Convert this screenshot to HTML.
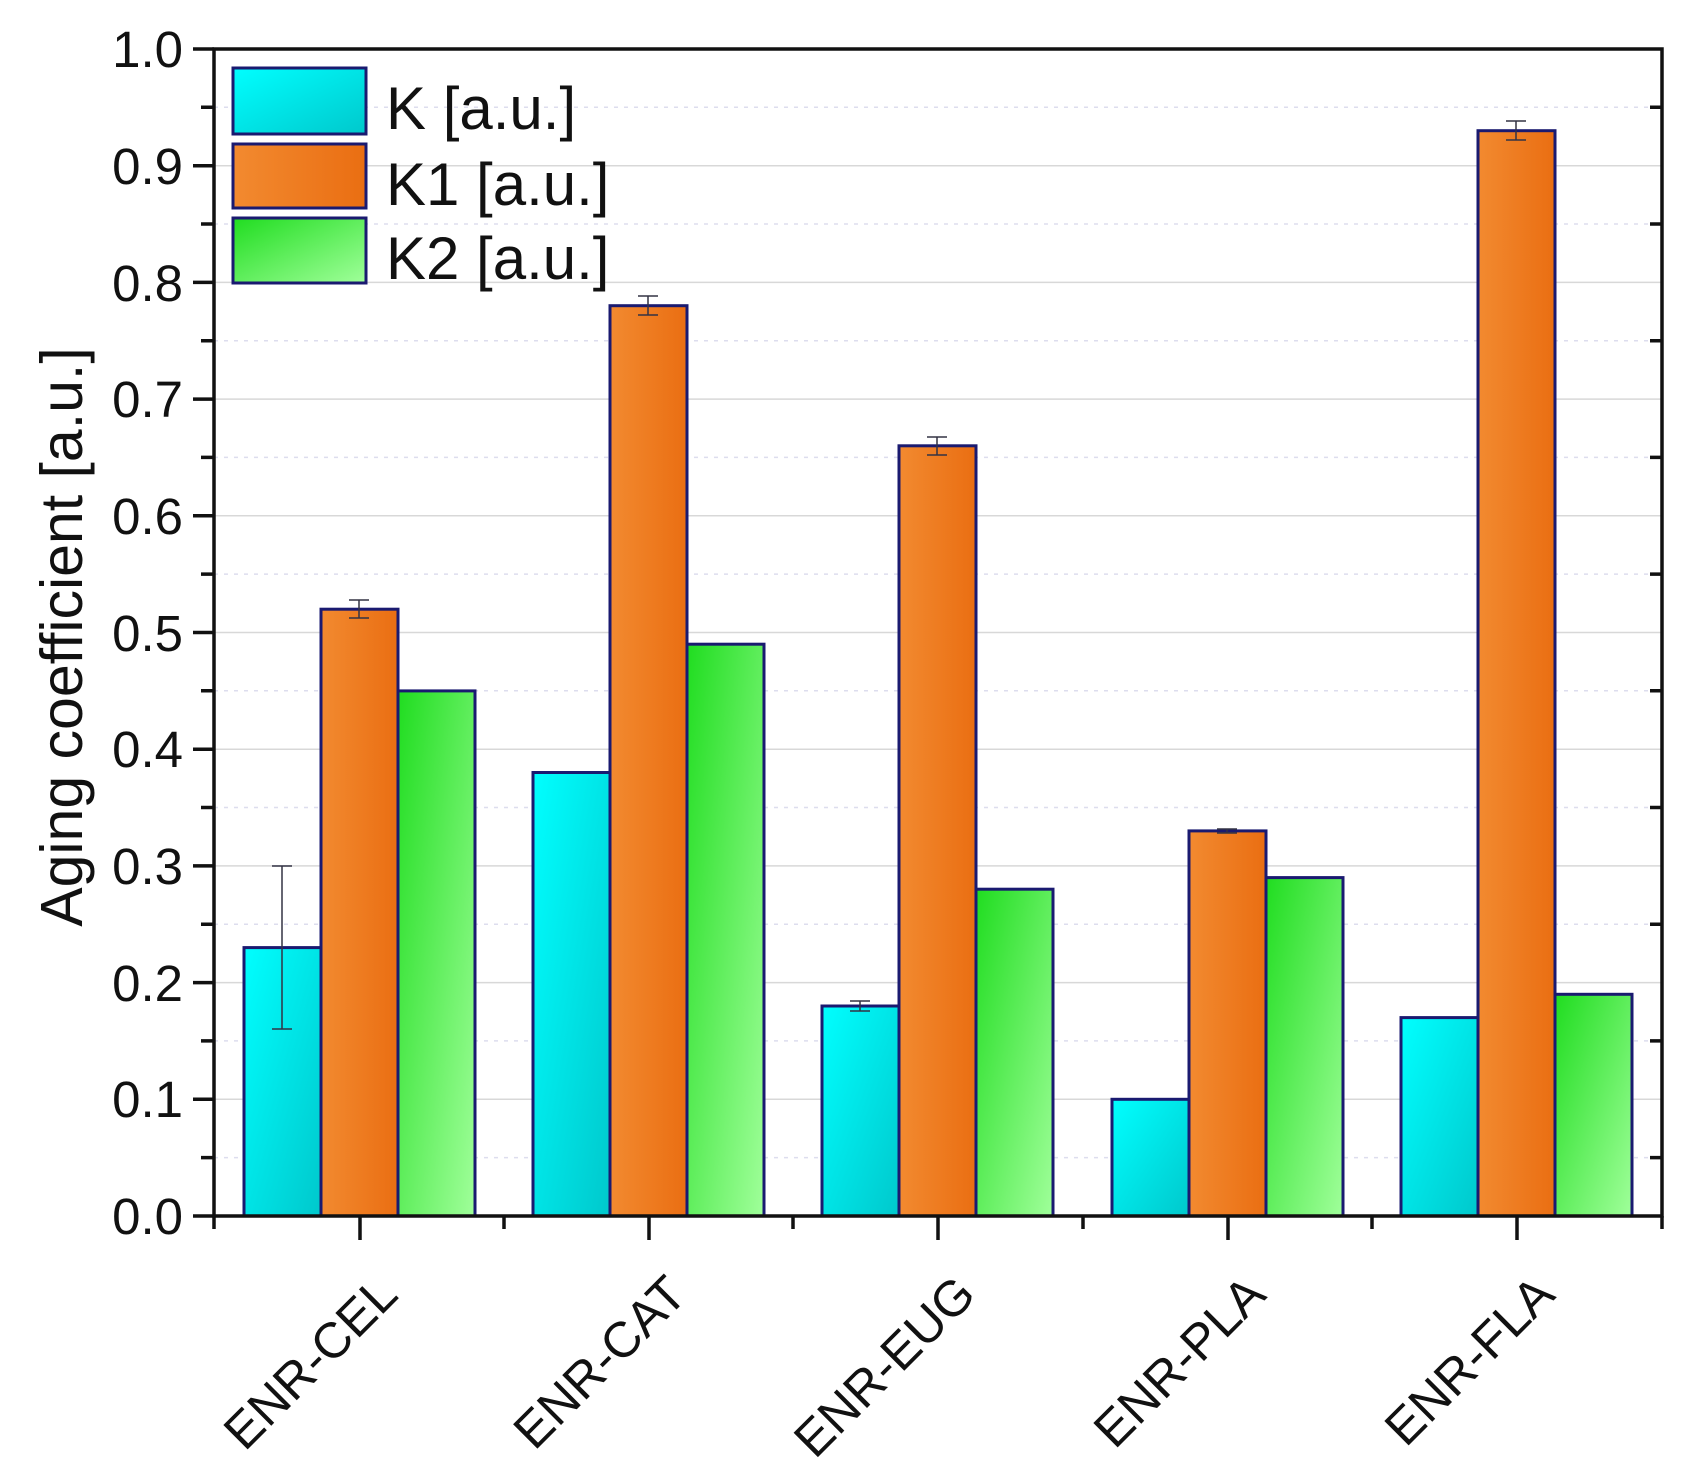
<!DOCTYPE html>
<html><head><meta charset="utf-8"><style>html,body{margin:0;padding:0;background:#fff}svg{display:block}</style></head>
<body>
<svg width="1688" height="1469" viewBox="0 0 1688 1469" xmlns="http://www.w3.org/2000/svg" font-family="Liberation Sans, Arial, sans-serif">
<defs>
<linearGradient id="gc" x1="0" y1="0" x2="1" y2="1"><stop offset="0" stop-color="#00ffff"/><stop offset="1" stop-color="#00c8cc"/></linearGradient>
<linearGradient id="go" x1="0" y1="0" x2="1" y2="0"><stop offset="0" stop-color="#f28a30"/><stop offset="1" stop-color="#ea6e12"/></linearGradient>
<linearGradient id="gg" x1="0" y1="0" x2="1" y2="1"><stop offset="0" stop-color="#20dd20"/><stop offset="1" stop-color="#a0ff9a"/></linearGradient>
</defs>
<g stroke="#d8d8d8" stroke-width="1.5">
<line x1="214" x2="1662" y1="1099.3" y2="1099.3"/><line x1="214" x2="1662" y1="982.6" y2="982.6"/><line x1="214" x2="1662" y1="865.9" y2="865.9"/><line x1="214" x2="1662" y1="749.2" y2="749.2"/><line x1="214" x2="1662" y1="632.5" y2="632.5"/><line x1="214" x2="1662" y1="515.8" y2="515.8"/><line x1="214" x2="1662" y1="399.1" y2="399.1"/><line x1="214" x2="1662" y1="282.4" y2="282.4"/><line x1="214" x2="1662" y1="165.7" y2="165.7"/>
</g>
<g stroke="#dde" stroke-width="1.5" stroke-dasharray="4 6">
<line x1="214" x2="1662" y1="1157.6" y2="1157.6"/><line x1="214" x2="1662" y1="1040.9" y2="1040.9"/><line x1="214" x2="1662" y1="924.2" y2="924.2"/><line x1="214" x2="1662" y1="807.5" y2="807.5"/><line x1="214" x2="1662" y1="690.8" y2="690.8"/><line x1="214" x2="1662" y1="574.1" y2="574.1"/><line x1="214" x2="1662" y1="457.4" y2="457.4"/><line x1="214" x2="1662" y1="340.7" y2="340.7"/><line x1="214" x2="1662" y1="224" y2="224"/><line x1="214" x2="1662" y1="107.3" y2="107.3"/>
</g>
<g stroke="#1a1a70" stroke-width="3">
<rect x="244" y="947.6" width="77" height="268.4" fill="url(#gc)"/><rect x="321" y="609.2" width="77" height="606.8" fill="url(#go)"/><rect x="398" y="690.9" width="77" height="525.1" fill="url(#gg)"/>
<rect x="533" y="772.5" width="77" height="443.5" fill="url(#gc)"/><rect x="610" y="305.7" width="77" height="910.3" fill="url(#go)"/><rect x="687" y="644.2" width="77" height="571.8" fill="url(#gg)"/>
<rect x="822" y="1006" width="77" height="210" fill="url(#gc)"/><rect x="899" y="445.8" width="77" height="770.2" fill="url(#go)"/><rect x="976" y="889.2" width="77" height="326.8" fill="url(#gg)"/>
<rect x="1112" y="1099.3" width="77" height="116.7" fill="url(#gc)"/><rect x="1189" y="830.9" width="77" height="385.1" fill="url(#go)"/><rect x="1266" y="877.6" width="77" height="338.4" fill="url(#gg)"/>
<rect x="1401" y="1017.6" width="77" height="198.4" fill="url(#gc)"/><rect x="1478" y="130.7" width="77" height="1085.3" fill="url(#go)"/><rect x="1555" y="994.3" width="77" height="221.7" fill="url(#gg)"/>
</g>
<g stroke="#334" stroke-width="1.5" fill="none">
<path d="M282 866V1029M272 866H292M272 1029H292"/>
<path d="M359 600V618M349 600H369M349 618H369"/>
<path d="M648 296V315M638 296H658M638 315H658"/>
<path d="M937 437V455M927 437H947M927 455H947"/>
<path d="M860 1001V1011M850 1001H870M850 1011H870"/>
<path d="M1227 829V833M1217 829H1237M1217 833H1237"/>
<path d="M1516 121V140M1506 121H1526M1506 140H1526"/>
</g>
<g stroke="#111" stroke-width="3.5" fill="none">
<path d="M214 49H1662V1216H214Z"/>
<path d="M193 1216H214M193 1099.3H214M193 982.6H214M193 865.9H214M193 749.2H214M193 632.5H214M193 515.8H214M193 399.1H214M193 282.4H214M193 165.7H214M193 49H214"/>
<path d="M201 1157.6H214M201 1040.9H214M201 924.2H214M201 807.5H214M201 690.8H214M201 574.1H214M201 457.4H214M201 340.7H214M201 224H214M201 107.3H214"/>
<path d="M1662 1157.6H1650M1662 1040.9H1650M1662 924.2H1650M1662 807.5H1650M1662 690.8H1650M1662 574.1H1650M1662 457.4H1650M1662 340.7H1650M1662 224H1650M1662 107.3H1650"/>
<path d="M360 1216V1240M649 1216V1240M938 1216V1240M1228 1216V1240M1517 1216V1240"/>
<path d="M214 1216V1229M504 1216V1229M793 1216V1229M1083 1216V1229M1372 1216V1229M1662 1216V1229"/>
</g>
<g font-size="51" fill="#111" text-anchor="end">
<text x="183" y="1234">0.0</text><text x="183" y="1117">0.1</text><text x="183" y="1001">0.2</text><text x="183" y="884">0.3</text><text x="183" y="767">0.4</text><text x="183" y="651">0.5</text><text x="183" y="534">0.6</text><text x="183" y="417">0.7</text><text x="183" y="301">0.8</text><text x="183" y="184">0.9</text><text x="183" y="67">1.0</text>
</g>
<text transform="translate(82,637) rotate(-90)" font-size="59" text-anchor="middle" fill="#111">Aging coefficient [a.u.]</text>
<g font-size="50" fill="#111" text-anchor="end">
<text transform="translate(400,1297) rotate(-45)">ENR-CEL</text>
<text transform="translate(689,1297) rotate(-45)">ENR-CAT</text>
<text transform="translate(978,1297) rotate(-45)">ENR-EUG</text>
<text transform="translate(1268,1297) rotate(-45)">ENR-PLA</text>
<text transform="translate(1557,1297) rotate(-45)">ENR-FLA</text>
</g>
<g stroke="#1a1a70" stroke-width="3">
<rect x="233" y="68" width="133" height="66" fill="url(#gc)"/>
<rect x="233" y="144" width="133" height="64" fill="url(#go)"/>
<rect x="233" y="218" width="133" height="65" fill="url(#gg)"/>
</g>
<g font-size="60" fill="#111">
<text x="386" y="129">K [a.u.]</text>
<text x="386" y="205">K1 [a.u.]</text>
<text x="386" y="279">K2 [a.u.]</text>
</g>
</svg>
</body></html>
